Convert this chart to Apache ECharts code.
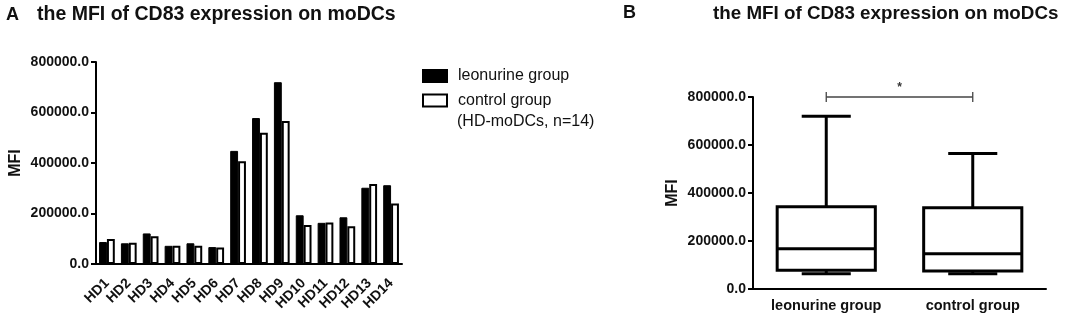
<!DOCTYPE html>
<html>
<head>
<meta charset="utf-8">
<script src="https://cdn.jsdelivr.net/npm/echarts@6/dist/echarts.min.js"></script>
<style>
  html, body { margin: 0; padding: 0; background: #fff; }
  #chart { width: 1065px; height: 318px; }
</style>
</head>
<body>
<div id="chart"></div>
<script>
// panel A data
var donors = ['HD1', 'HD2', 'HD3', 'HD4', 'HD5', 'HD6', 'HD7', 'HD8', 'HD9', 'HD10', 'HD11', 'HD12', 'HD13', 'HD14'];
var leonurine = [87000, 82000, 121000, 72000, 82000, 67000, 448000, 578000, 720000, 193000, 163000, 185000, 302000, 312000];
var control = [99000, 84000, 110000, 72000, 72000, 65000, 407000, 520000, 566000, 154000, 164000, 150000, 317000, 240000];

// panel B data: [min, q1, median, q3, max]
var boxGroups = ['leonurine group', 'control group'];
var leonurineBox = [64000, 78000, 168000, 343000, 720000];
var controlBox = [64000, 75000, 147000, 339000, 565000];
var sigPair = [0, 1, 800000];
var sigLabel = '*';

var FONT = '"Liberation Sans", Arial, sans-serif';
var INK = '#111';

var chart = echarts.init(document.getElementById('chart'));

function renderBox(params, api) {
    var x = api.value(0);
    var pMin = api.coord([x, api.value(1)]);
    var pQ1 = api.coord([x, api.value(2)]);
    var pMed = api.coord([x, api.value(3)]);
    var pQ3 = api.coord([x, api.value(4)]);
    var pMax = api.coord([x, api.value(5)]);
    var bw = api.size([1, 0])[0] * 0.67;
    var cw = bw / 2;
    var cx = pMin[0];
    var st = { stroke: '#000', lineWidth: 3, fill: null };
    return {
        type: 'group',
        children: [
            { type: 'line', shape: { x1: cx, y1: pQ3[1], x2: cx, y2: pMax[1] }, style: st },
            { type: 'line', shape: { x1: cx - cw / 2, y1: pMax[1], x2: cx + cw / 2, y2: pMax[1] }, style: st },
            { type: 'line', shape: { x1: cx, y1: pQ1[1], x2: cx, y2: pMin[1] }, style: st },
            { type: 'line', shape: { x1: cx - cw / 2, y1: pMin[1], x2: cx + cw / 2, y2: pMin[1] }, style: st },
            { type: 'rect', shape: { x: cx - bw / 2, y: pQ3[1], width: bw, height: pQ1[1] - pQ3[1] }, style: { stroke: '#000', lineWidth: 3, fill: '#fff' } },
            { type: 'line', shape: { x1: cx - bw / 2, y1: pMed[1], x2: cx + bw / 2, y2: pMed[1] }, style: st }
        ]
    };
}

function renderSig(params, api) {
    var p1 = api.coord([api.value(0), api.value(2)]);
    var p2 = api.coord([api.value(1), api.value(2)]);
    var st = { stroke: '#444', lineWidth: 1.3 };
    return {
        type: 'group',
        children: [
            { type: 'line', shape: { x1: p1[0], y1: p1[1], x2: p2[0], y2: p2[1] }, style: st },
            { type: 'line', shape: { x1: p1[0], y1: p1[1] - 5, x2: p1[0], y2: p1[1] + 5 }, style: st },
            { type: 'line', shape: { x1: p2[0], y1: p2[1] - 5, x2: p2[0], y2: p2[1] + 5 }, style: st },
            { type: 'text', style: { text: sigLabel, x: (p1[0] + p2[0]) / 2, y: p1[1] - 3, align: 'center', verticalAlign: 'bottom', fill: '#333', font: 'bold 12px ' + FONT } }
        ]
    };
}

var valueAxisBase = {
    type: 'value',
    min: 0,
    max: 800000,
    interval: 200000,
    name: 'MFI',
    nameLocation: 'middle',
    nameRotate: 90,
    nameGap: 72,
    nameTextStyle: { fontFamily: FONT, fontWeight: 'bold', fontSize: 16, color: INK },
    axisLine: { show: true, lineStyle: { color: '#000', width: 2 } },
    axisTick: { show: true, length: 5, lineStyle: { color: '#000', width: 2 } },
    axisLabel: {
        fontFamily: FONT, fontWeight: 'bold', fontSize: 14, color: INK, margin: 7,
        formatter: function (v) { return v.toFixed(1); }
    },
    splitLine: { show: false }
};

chart.setOption({
    animation: false,
    backgroundColor: '#fff',
    title: [
        { text: 'A', left: 6, top: 6, padding: 0, textStyle: { fontFamily: FONT, fontWeight: 'bold', fontSize: 18, color: INK } },
        { text: 'the MFI of CD83 expression on moDCs', left: 37, top: 5, padding: 0, textStyle: { fontFamily: FONT, fontWeight: 'bold', fontSize: 19.5, color: INK } },
        { text: 'B', left: 623, top: 4, padding: 0, textStyle: { fontFamily: FONT, fontWeight: 'bold', fontSize: 18, color: INK } },
        { text: 'the MFI of CD83 expression on moDCs', left: 713, top: 4, padding: 0, textStyle: { fontFamily: FONT, fontWeight: 'bold', fontSize: 18.8, color: INK } }
    ],
    legend: {
        orient: 'vertical',
        left: 422,
        top: 68,
        padding: 0,
        icon: 'rect',
        itemWidth: 24,
        itemHeight: 12,
        itemGap: 8.5,
        textStyle: { fontFamily: FONT, fontSize: 16, color: INK, padding: [0, 0, 0, 6] },
        data: ['leonurine group', 'control group']
    },
    graphic: [
        { type: 'text', left: 457, top: 114, style: { text: '(HD-moDCs, n=14)', font: '16px ' + FONT, fill: INK } }
    ],
    grid: [
        { left: 96, right: 663, top: 62, bottom: 54 },
        { left: 753, right: 19, top: 97, bottom: 29 }
    ],
    xAxis: [
        {
            type: 'category',
            gridIndex: 0,
            data: donors,
            axisLine: { lineStyle: { color: '#000', width: 2 } },
            axisTick: { alignWithLabel: true, length: 5, lineStyle: { color: '#000', width: 2 } },
            axisLabel: { interval: 0, rotate: 45, margin: 17, fontFamily: FONT, fontWeight: 'bold', fontSize: 14, color: INK }
        },
        {
            type: 'category',
            gridIndex: 1,
            data: boxGroups,
            axisLine: { lineStyle: { color: '#000', width: 2 } },
            axisTick: { alignWithLabel: true, length: 5, lineStyle: { color: '#000', width: 2 } },
            axisLabel: { margin: 9, fontFamily: FONT, fontWeight: 'bold', fontSize: 14.5, color: INK }
        }
    ],
    yAxis: [
        Object.assign({}, valueAxisBase, { gridIndex: 0 }),
        Object.assign({}, valueAxisBase, { gridIndex: 1 })
    ],
    series: [
        {
            name: 'leonurine group',
            type: 'bar',
            xAxisIndex: 0,
            yAxisIndex: 0,
            barGap: '0%',
            barCategoryGap: '28%',
            itemStyle: { color: '#000', borderColor: '#000', borderWidth: 1 },
            data: leonurine
        },
        {
            name: 'control group',
            type: 'bar',
            xAxisIndex: 0,
            yAxisIndex: 0,
            itemStyle: { color: '#fff', borderColor: '#000', borderWidth: 2 },
            data: control
        },
        {
            type: 'custom',
            xAxisIndex: 1,
            yAxisIndex: 1,
            clip: false,
            renderItem: renderBox,
            encode: { x: 0, y: [1, 2, 3, 4, 5] },
            data: [[0].concat(leonurineBox), [1].concat(controlBox)]
        },
        {
            type: 'custom',
            xAxisIndex: 1,
            yAxisIndex: 1,
            clip: false,
            renderItem: renderSig,
            encode: { x: [0, 1], y: 2 },
            data: [sigPair]
        }
    ]
});
</script>
</body>
</html>
